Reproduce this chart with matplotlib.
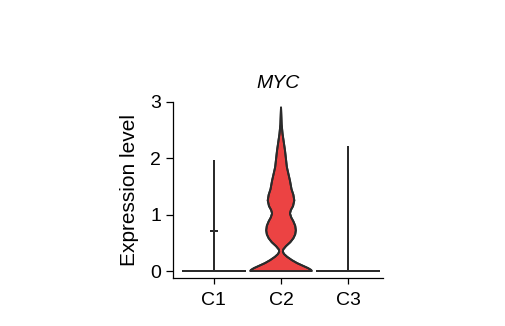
import numpy as np
import matplotlib
matplotlib.use("Agg")
import matplotlib.pyplot as plt

plt.rcParams["font.family"] = ["Liberation Sans", "DejaVu Sans"]

# ---------------- DATA ----------------
gene = "MYC"
clusters = ["C1", "C2", "C3"]

# violin outlines: expression level -> relative half-width (1 = widest)
c1_levels = [0.0, 0.0, 0.70, 0.70, 0.70, 1.95]
c1_width = [1.0, 0.0, 0.0, 0.09, 0.0, 0.0]

c2_levels = [0.0, 0.02, 0.05, 0.09, 0.14, 0.19, 0.25, 0.30, 0.34, 0.38, 0.44,
             0.51, 0.58, 0.65, 0.72, 0.80, 0.88, 0.95, 1.02, 1.08, 1.15, 1.25,
             1.35, 1.45, 1.60, 1.84, 2.13, 2.43, 2.60, 2.90]
c2_width = [1.0, 0.97, 0.88, 0.72, 0.52, 0.36, 0.20, 0.10, 0.06, 0.07, 0.16,
            0.30, 0.40, 0.46, 0.48, 0.46, 0.40, 0.33, 0.29, 0.32, 0.39, 0.43,
            0.40, 0.34, 0.29, 0.19, 0.13, 0.05, 0.02, 0.0]

c3_levels = [0.0, 0.0, 2.20]
c3_width = [1.0, 0.0, 0.0]

levels = [c1_levels, c2_levels, c3_levels]
widths = [c1_width, c2_width, c3_width]
fills = ["white", "#EC4343", "white"]

# ---------------- PLOT ----------------
fig = plt.figure(figsize=(5.05, 3.26), dpi=100)
ax = fig.add_axes([0.3426, 0.1472, 0.4158, 0.541])

half = 0.46
edge = "#2b2b2b"
lw = 1.4
for i, (yv, wv, fc) in enumerate(zip(levels, widths, fills)):
    pos = i + 1
    yv = np.asarray(yv)
    wv = np.asarray(wv) * half
    xs = np.concatenate([pos - wv, (pos + wv)[::-1]])
    ys = np.concatenate([yv, yv[::-1]])
    ax.fill(xs, ys, facecolor=fc, edgecolor=edge, linewidth=lw,
            joinstyle="round", zorder=3)
    ax.plot(pos - wv, yv, color=edge, linewidth=lw, zorder=4,
            solid_capstyle="butt")
    ax.plot(pos + wv, yv, color=edge, linewidth=lw, zorder=4,
            solid_capstyle="butt")

ax.set_xlim(0.39, 3.52)
ax.set_ylim(-0.124, 3.0)
ax.set_xticks([1, 2, 3])
ax.set_xticklabels(clusters)
ax.set_yticks([0, 1, 2, 3])

for s in ["top", "right"]:
    ax.spines[s].set_visible(False)
for s in ["left", "bottom"]:
    ax.spines[s].set_linewidth(0.9)

ax.tick_params(axis="y", length=5, width=0.9, pad=3.5, labelsize=14)
ax.tick_params(axis="x", length=4, width=0.9, pad=6, labelsize=14)

ax.set_ylabel("Expression level", fontsize=15, labelpad=8)
ax.set_title(gene, style="italic", fontsize=14, pad=10)

plt.savefig("out.png", dpi=100)
